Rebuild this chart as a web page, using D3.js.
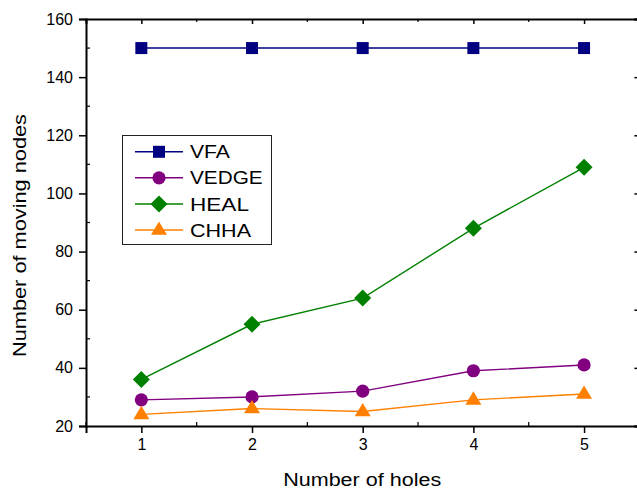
<!DOCTYPE html>
<html>
<head>
<meta charset="utf-8">
<script src="https://cdn.jsdelivr.net/npm/d3@7"></script>
<style>
  html, body { margin: 0; padding: 0; background: #fff; }
  svg { display: block; font-family: "Liberation Sans", Arial, sans-serif; }
</style>
</head>
<body>
<svg id="chart" width="637" height="490"></svg>
<script>
const holes = [1, 2, 3, 4, 5];
const vfa   = [150, 150, 150, 150, 150];
const vedge = [29, 30, 32, 39, 41];
const heal  = [36, 55, 64, 88, 109];
const chha  = [24, 26, 25, 29, 31];
const seriesNames = ["VFA", "VEDGE", "HEAL", "CHHA"];
const seriesColors = ["#000080", "#800080", "#008000", "#ff8000"];
const seriesShapes = ["square", "circle", "diamond", "triangle"];
const yTicks = [20, 40, 60, 80, 100, 120, 140, 160];
const xTicks = [1, 2, 3, 4, 5];

const seriesData = [vfa, vedge, heal, chha];

(function () {
const svg = d3.select("#chart");
const pL = 86, pR = 639.4, pT = 19, pB = 426;

const x = d3.scaleLinear().domain([0.5, 5.5]).range([pL, pR]);
const y = d3.scaleLinear().domain([20, 160]).range([pB, pT]);

const xMinor = [0.5, 1.5, 2.5, 3.5, 4.5, 5.5];
const yMinor = [30, 50, 70, 90, 110, 130, 150];

const gB = svg.append("g").attr("transform", `translate(0,${pB})`)
  .call(d3.axisBottom(x).tickValues(xTicks).tickSize(7).tickPadding(6).tickFormat(d3.format("d")));
const gL = svg.append("g").attr("transform", `translate(${pL},0)`)
  .call(d3.axisLeft(y).tickValues(yTicks).tickSize(7).tickPadding(6).tickFormat(d3.format("d")));
const gT = svg.append("g").attr("transform", `translate(0,${pT})`)
  .call(d3.axisBottom(x).tickValues(xTicks).tickSize(5).tickFormat(""));
const gR = svg.append("g").attr("transform", `translate(${pR},0)`)
  .call(d3.axisLeft(y).tickValues(yTicks).tickSize(5).tickFormat(""));

[gB, gL, gT, gR].forEach(g => {
  g.select(".domain").attr("stroke", "#000").attr("stroke-width", 2);
  g.selectAll(".tick line").attr("stroke", "#000").attr("stroke-width", 1.5);
  g.selectAll(".tick text").attr("font-size", 16).attr("fill", "#000")
    .attr("font-family", "'Liberation Sans', Arial, sans-serif");
});

svg.append("g").selectAll("line").data(xMinor).join("line")
  .attr("x1", d => x(d)).attr("x2", d => x(d))
  .attr("y1", pB).attr("y2", pB - 4).attr("stroke", "#000").attr("stroke-width", 1.2);
svg.append("g").selectAll("line").data(xMinor).join("line")
  .attr("x1", d => x(d)).attr("x2", d => x(d))
  .attr("y1", pT).attr("y2", pT + 3).attr("stroke", "#000").attr("stroke-width", 1.2);
svg.append("g").selectAll("line").data(yMinor).join("line")
  .attr("x1", pL).attr("x2", pL + 4)
  .attr("y1", d => y(d)).attr("y2", d => y(d)).attr("stroke", "#000").attr("stroke-width", 1.2);

svg.append("text")
  .attr("x", (pL + pR) / 2 - 0.5).attr("y", 486)
  .attr("text-anchor", "middle").attr("font-size", 17.5)
  .attr("textLength", 158).attr("lengthAdjust", "spacingAndGlyphs")
  .text("Number of holes");
svg.append("text")
  .attr("transform", "translate(25.5,235.5) rotate(-90)")
  .attr("text-anchor", "middle").attr("font-size", 18)
  .attr("textLength", 243).attr("lengthAdjust", "spacingAndGlyphs")
  .text("Number of moving nodes");

function drawMarker(g, shape, color, cx, cy) {
  if (shape === "square") {
    g.append("rect").attr("x", cx - 6).attr("y", cy - 6).attr("width", 12).attr("height", 12)
      .attr("fill", color);
  } else if (shape === "circle") {
    g.append("circle").attr("cx", cx).attr("cy", cy).attr("r", 6.6).attr("fill", color);
  } else if (shape === "diamond") {
    g.append("path").attr("d", `M${cx},${cy - 8.5}L${cx + 8.5},${cy}L${cx},${cy + 8.5}L${cx - 8.5},${cy}Z`)
      .attr("fill", color);
  } else if (shape === "triangle") {
    g.append("path").attr("d", `M${cx},${cy - 8.5}L${cx + 8},${cy + 4.8}L${cx - 8},${cy + 4.8}Z`)
      .attr("fill", color);
  }
}

const line = d3.line().x((d, i) => x(holes[i])).y(d => y(d));

seriesData.forEach((vals, si) => {
  const g = svg.append("g");
  g.append("path").datum(vals).attr("d", line)
    .attr("fill", "none").attr("stroke", seriesColors[si]).attr("stroke-width", 1.4);
  vals.forEach((v, i) => drawMarker(g, seriesShapes[si], seriesColors[si], x(holes[i]), y(v)));
});

const lg = svg.append("g");
lg.append("rect").attr("x", 122.5).attr("y", 135.5).attr("width", 149).attr("height", 109)
  .attr("fill", "#fff").attr("stroke", "#222").attr("stroke-width", 1);
const legendBaselines = [158.3, 184.3, 210.5, 236.5];
const legendWidths = [40, 72.7, 59, 61];
seriesNames.forEach((name, i) => {
  const cy = legendBaselines[i] - 6.5;
  lg.append("line").attr("x1", 135).attr("x2", 183).attr("y1", cy).attr("y2", cy)
    .attr("stroke", seriesColors[i]).attr("stroke-width", 1.4);
  drawMarker(lg, seriesShapes[i], seriesColors[i], 159, cy);
  lg.append("text").attr("x", 190).attr("y", legendBaselines[i])
    .attr("font-size", 18.5).attr("fill", "#000")
    .attr("textLength", legendWidths[i]).attr("lengthAdjust", "spacingAndGlyphs")
    .text(name);
});
})();
</script>
</body>
</html>
